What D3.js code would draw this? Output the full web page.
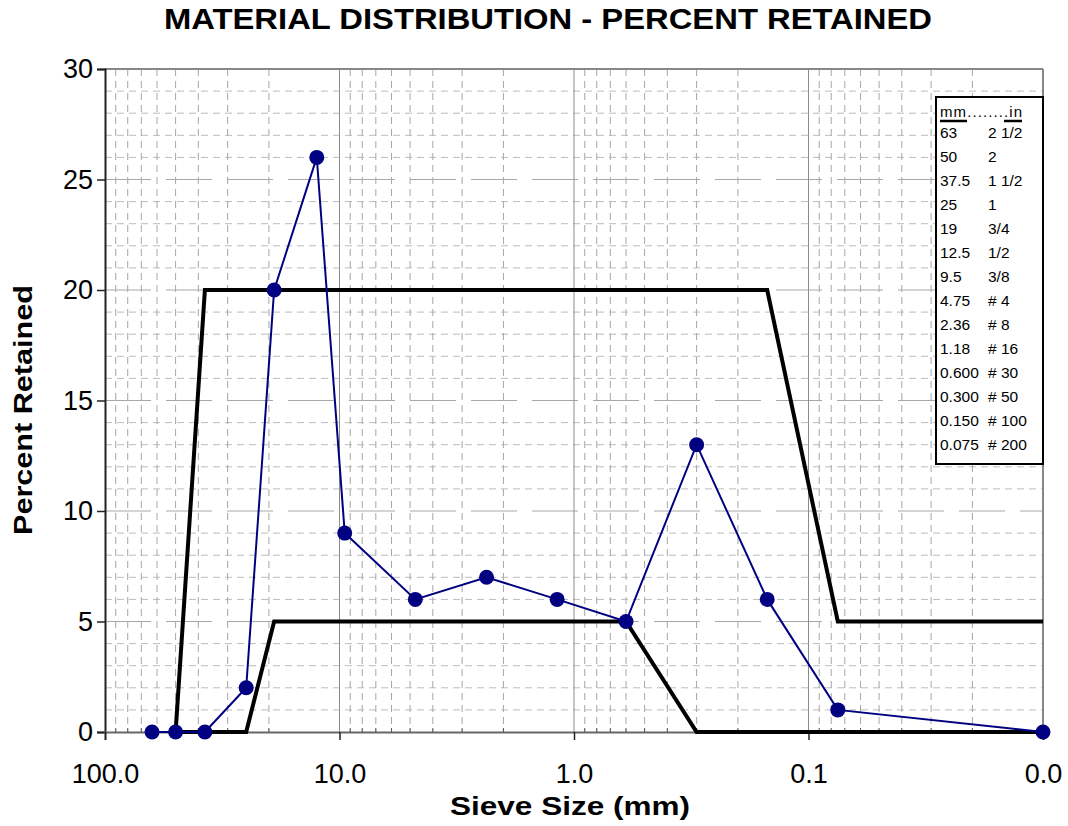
<!DOCTYPE html>
<meta charset="utf-8">
<style>
body { margin: 0; background: #fff; }
text { font-family: Arial, "Liberation Sans", sans-serif; }
.grid-minor-x { stroke: #a6a6a6; stroke-width: 1; stroke-dasharray: 7,5; }
.grid-minor-y { stroke: #bcbcbc; stroke-width: 1; stroke-dasharray: 7,5; }
.grid-major-y { stroke: #a8a8a8; stroke-width: 1; stroke-dasharray: 46,15; }
.grid-major-x { stroke: #8c8c8c; stroke-width: 1; }
</style>
<svg width="1068" height="826"></svg>
<script src="https://cdn.jsdelivr.net/npm/d3@7"></script>
<script>
// sieve sizes (mm), last one is the pan
var sieves = [63, 50, 37.5, 25, 19, 12.5, 9.5, 4.75, 2.36, 1.18, 0.6, 0.3, 0.15, 0.075, 0.01];
var retained = [0, 0, 0, 2, 20, 26, 9, 6, 7, 6, 5, 13, 6, 1, 0];

var specSieves = [50, 37.5, 25, 19, 12.5, 9.5, 4.75, 2.36, 1.18, 0.6, 0.3, 0.15, 0.075, 0.01];
var upperSpec = [0, 20, 20, 20, 20, 20, 20, 20, 20, 20, 20, 20, 5, 5];
var lowerSpec = [0, 0, 0, 5, 5, 5, 5, 5, 5, 5, 0, 0, 0, 0];

var xTicks = [100, 10, 1, 0.1, 0.01];
var yTicks = [0, 5, 10, 15, 20, 25, 30];

var legendMm = ["63", "50", "37.5", "25", "19", "12.5", "9.5", "4.75", "2.36", "1.18", "0.600", "0.300", "0.150", "0.075"];
var legendIn = ["2 1/2", "2", "1 1/2", "1", "3/4", "1/2", "3/8", "# 4", "# 8", "# 16", "# 30", "# 50", "# 100", "# 200"];

var svg = d3.select("svg"),
    margin = {top: 69, right: 25, bottom: 94, left: 105},
    width = +svg.attr("width") - margin.left - margin.right,
    height = +svg.attr("height") - margin.top - margin.bottom;

var x = d3.scaleLog().domain([100, 0.01]).range([0, width]),
    y = d3.scaleLinear().domain([0, 30]).range([height, 0]);

var g = svg.append("g")
    .attr("transform", "translate(" + margin.left + "," + margin.top + ")");

// minor grid values
var minorX = [];
[10, 1, 0.1, 0.01].forEach(function(dec) {
  for (var k = 2; k <= 9; k++) minorX.push(dec * k);
});
var minorY = d3.range(0, 31).filter(function(v) { return v % 5 !== 0; });

g.selectAll(".gmy").data(minorY).enter().append("line")
    .attr("class", "grid-minor-y")
    .attr("x1", 0).attr("x2", width)
    .attr("y1", function(d) { return y(d); }).attr("y2", function(d) { return y(d); });

g.selectAll(".gmx").data(minorX).enter().append("line")
    .attr("class", "grid-minor-x")
    .attr("y1", 0).attr("y2", height)
    .attr("x1", function(d) { return x(d); }).attr("x2", function(d) { return x(d); });

g.selectAll(".gMy").data(yTicks.filter(function(v) { return v > 0 && v < 30; })).enter().append("line")
    .attr("class", "grid-major-y")
    .attr("x1", 0).attr("x2", width)
    .attr("y1", function(d) { return y(d); }).attr("y2", function(d) { return y(d); });

g.selectAll(".gMx").data(xTicks.slice(1, 4)).enter().append("line")
    .attr("class", "grid-major-x")
    .attr("y1", 0).attr("y2", height)
    .attr("x1", function(d) { return x(d); }).attr("x2", function(d) { return x(d); });

// frame (top and right)
g.append("line").attr("x1", 0).attr("x2", width).attr("y1", 0).attr("y2", 0)
    .attr("stroke", "#888").attr("stroke-width", 2);
g.append("line").attr("x1", width).attr("x2", width).attr("y1", 0).attr("y2", height)
    .attr("stroke", "#888").attr("stroke-width", 2);

// axes
var yAxis = d3.axisLeft(y).tickValues(yTicks).tickSize(8).tickPadding(4);
var xAxis = d3.axisBottom(x).tickValues(xTicks).tickSize(8).tickPadding(24)
    .tickFormat(d3.format(".1f"));

var ya = g.append("g").call(yAxis);
var xa = g.append("g").attr("transform", "translate(0," + height + ")").call(xAxis);
[ya, xa].forEach(function(a) {
  a.attr("font-size", 27).attr("font-family", "Arial, 'Liberation Sans', sans-serif");
  a.select(".domain").attr("stroke", "#222").attr("stroke-width", 2);
  a.selectAll(".tick line").attr("stroke", "#222").attr("stroke-width", 1.5);
  a.selectAll("text").attr("fill", "#000");
});
xa.select(".domain").attr("stroke", "#666");

// small minor ticks on x axis
g.selectAll(".mt").data(minorX).enter().append("line")
    .attr("x1", function(d) { return x(d); }).attr("x2", function(d) { return x(d); })
    .attr("y1", height - 4).attr("y2", height)
    .attr("stroke", "#555").attr("stroke-width", 1);

// spec envelope lines
var specLine = d3.line()
    .x(function(d) { return x(d[0]); })
    .y(function(d) { return y(d[1]); });

[upperSpec, lowerSpec].forEach(function(s) {
  g.append("path")
      .datum(d3.zip(specSieves, s))
      .attr("d", specLine)
      .attr("fill", "none")
      .attr("stroke", "#000")
      .attr("stroke-width", 4)
      .attr("stroke-linejoin", "miter");
});

// gradation
var pts = d3.zip(sieves, retained);
g.append("path")
    .datum(pts)
    .attr("d", specLine)
    .attr("fill", "none")
    .attr("stroke", "#000080")
    .attr("stroke-width", 2);

g.selectAll("circle").data(pts).enter().append("circle")
    .attr("cx", function(d) { return x(d[0]); })
    .attr("cy", function(d) { return y(d[1]); })
    .attr("r", 7.5)
    .attr("fill", "#000080");

// legend box
var lg = svg.append("g").attr("transform", "translate(936,97)");
lg.append("rect").attr("width", 107).attr("height", 367)
    .attr("fill", "#fff").attr("stroke", "#000").attr("stroke-width", 2);
lg.append("text").attr("x", 4).attr("y", 20).attr("font-size", 15)
    .attr("textLength", 82).attr("lengthAdjust", "spacing")
    .text("mm........in");
lg.append("line").attr("x1", 4).attr("x2", 31).attr("y1", 24).attr("y2", 24)
    .attr("stroke", "#000").attr("stroke-width", 2.5);
lg.append("line").attr("x1", 68).attr("x2", 86).attr("y1", 24).attr("y2", 24)
    .attr("stroke", "#000").attr("stroke-width", 2.5);

lg.selectAll(".lm").data(legendMm).enter().append("text")
    .attr("x", 4)
    .attr("y", function(d, i) { return 41 + i * 24; })
    .attr("font-size", 15.5)
    .text(function(d) { return d; });
lg.selectAll(".li").data(legendIn).enter().append("text")
    .attr("x", 52)
    .attr("y", function(d, i) { return 41 + i * 24; })
    .attr("font-size", 15.5)
    .text(function(d) { return d; });

// titles
svg.append("text")
    .attr("x", 548).attr("y", 29)
    .attr("text-anchor", "middle")
    .attr("font-size", 29).attr("font-weight", "bold")
    .attr("textLength", 768).attr("lengthAdjust", "spacingAndGlyphs")
    .text("MATERIAL DISTRIBUTION - PERCENT RETAINED");

svg.append("text")
    .attr("x", 570).attr("y", 815)
    .attr("text-anchor", "middle")
    .attr("font-size", 25).attr("font-weight", "bold")
    .attr("textLength", 240).attr("lengthAdjust", "spacingAndGlyphs")
    .text("Sieve Size (mm)");

svg.append("text")
    .attr("transform", "translate(32,410) rotate(-90)")
    .attr("text-anchor", "middle")
    .attr("font-size", 25).attr("font-weight", "bold")
    .attr("textLength", 250).attr("lengthAdjust", "spacingAndGlyphs")
    .text("Percent Retained");
</script>
